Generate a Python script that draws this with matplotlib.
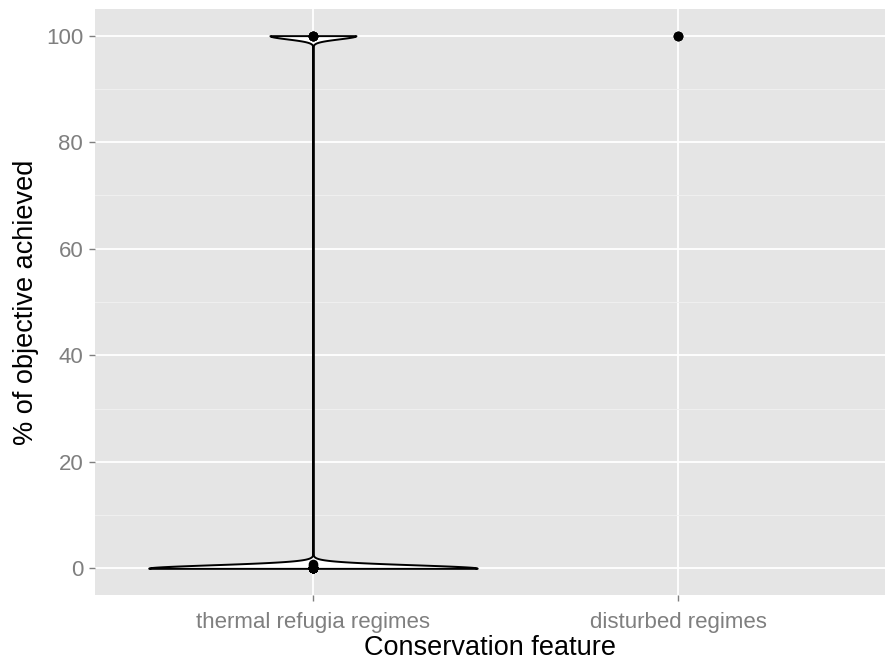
import numpy as np
import matplotlib
matplotlib.use("Agg")
import matplotlib.pyplot as plt

# --- data ---
categories = ["thermal refugia regimes", "disturbed regimes"]
thermal_values = [0.0] * 18 + [0.5, 0.9] + [100.0] * 5
disturbed_values = [100.0] * 3
y_ticks = [0, 20, 40, 60, 80, 100]
y_minor = [10, 30, 50, 70, 90]

plt.rcParams["font.family"] = ["Liberation Sans", "DejaVu Sans"]

fig = plt.figure(figsize=(8.86, 6.65), dpi=100)
W, H = 886, 665
ax = fig.add_axes([95 / W, (H - 595) / H, 790 / W, 586 / H])

# --- panel styling (ggplot grey theme) ---
ax.set_facecolor("#E5E5E5")
for s in ax.spines.values():
    s.set_visible(False)
ax.set_axisbelow(True)
ax.set_ylim(-5, 105)
ax.set_xlim(0.403, 2.567)
ax.set_yticks(y_ticks)
ax.set_yticks(y_minor, minor=True)
ax.set_xticks([1, 2])
ax.set_xticklabels(categories)
ax.grid(which="major", color="white", linewidth=1.3)
ax.grid(which="minor", axis="y", color="#F2F2F2", linewidth=0.6)
ax.tick_params(which="major", length=4.5, width=1, color="#7F7F7F",
               labelcolor="#7F7F7F", labelsize=16)
ax.tick_params(axis="x", pad=8)
ax.tick_params(axis="y", pad=4)
ax.tick_params(which="minor", length=0)

# --- violins (skip groups with no spread, as ggplot does) ---
groups = [thermal_values, disturbed_values]
for pos, vals in zip([1, 2], groups):
    vals = np.asarray(vals)
    if np.ptp(vals) > 0:
        parts = ax.violinplot([vals], positions=[pos], widths=0.9,
                              showextrema=False, points=3000,
                              bw_method=0.015)
        for body in parts["bodies"]:
            body.set_facecolor("white")
            body.set_edgecolor("black")
            body.set_linewidth(1.4)
            body.set_alpha(1)
            body.set_zorder(3)
    ax.scatter(np.full(len(vals), pos), vals, s=48, color="black",
               zorder=4, linewidths=0)

ax.set_xlabel("Conservation feature", fontsize=19.5, labelpad=1)
ax.set_ylabel("% of objective achieved", fontsize=19.5, labelpad=5)

fig.savefig("out.png", dpi=100)
